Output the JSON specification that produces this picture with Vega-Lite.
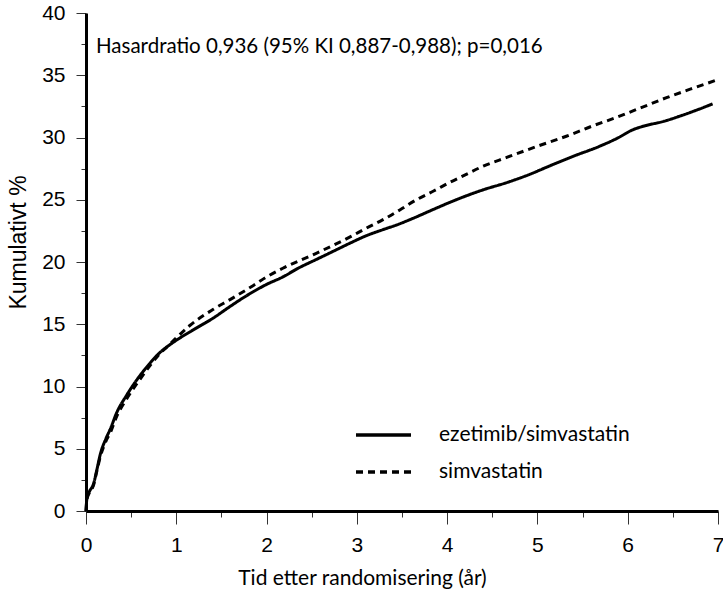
{
  "$schema": "https://vega.github.io/schema/vega-lite/v6.json",
  "width": 632,
  "height": 498,
  "autosize": {"type": "none"},
  "padding": {"left": 86, "top": 13, "right": 5, "bottom": 96},
  "background": "white",
  "title": {
    "text": "Hasardratio 0,936 (95% KI 0,887-0,988); p=0,016",
    "anchor": "start", "frame": "group", "offset": -55, "dx": 10,
    "font": "Lato", "fontSize": 20.5, "fontWeight": "normal", "color": "black"
  },
  "config": {"view": {"stroke": null}},
  "datasets": {
    "curves": [
      {"t":0,"v":0,"g":"ezetimib/simvastatin"},{"t":0.01,"v":1.0,"g":"ezetimib/simvastatin"},{"t":0.04,"v":1.6,"g":"ezetimib/simvastatin"},{"t":0.08,"v":2.1,"g":"ezetimib/simvastatin"},{"t":0.12,"v":3.3,"g":"ezetimib/simvastatin"},{"t":0.16,"v":4.6,"g":"ezetimib/simvastatin"},{"t":0.22,"v":5.8,"g":"ezetimib/simvastatin"},{"t":0.27,"v":6.6,"g":"ezetimib/simvastatin"},{"t":0.34,"v":7.9,"g":"ezetimib/simvastatin"},{"t":0.45,"v":9.3,"g":"ezetimib/simvastatin"},{"t":0.6,"v":10.9,"g":"ezetimib/simvastatin"},{"t":0.7,"v":11.8,"g":"ezetimib/simvastatin"},{"t":0.8,"v":12.6,"g":"ezetimib/simvastatin"},{"t":0.9,"v":13.2,"g":"ezetimib/simvastatin"},{"t":1.04,"v":13.9,"g":"ezetimib/simvastatin"},{"t":1.2,"v":14.6,"g":"ezetimib/simvastatin"},{"t":1.41,"v":15.5,"g":"ezetimib/simvastatin"},{"t":1.59,"v":16.4,"g":"ezetimib/simvastatin"},{"t":1.78,"v":17.3,"g":"ezetimib/simvastatin"},{"t":2.0,"v":18.2,"g":"ezetimib/simvastatin"},{"t":2.18,"v":18.8,"g":"ezetimib/simvastatin"},{"t":2.35,"v":19.5,"g":"ezetimib/simvastatin"},{"t":2.55,"v":20.2,"g":"ezetimib/simvastatin"},{"t":2.75,"v":20.9,"g":"ezetimib/simvastatin"},{"t":2.92,"v":21.5,"g":"ezetimib/simvastatin"},{"t":3.1,"v":22.1,"g":"ezetimib/simvastatin"},{"t":3.29,"v":22.6,"g":"ezetimib/simvastatin"},{"t":3.45,"v":23.0,"g":"ezetimib/simvastatin"},{"t":3.62,"v":23.5,"g":"ezetimib/simvastatin"},{"t":3.84,"v":24.2,"g":"ezetimib/simvastatin"},{"t":4.1,"v":25.0,"g":"ezetimib/simvastatin"},{"t":4.4,"v":25.8,"g":"ezetimib/simvastatin"},{"t":4.67,"v":26.4,"g":"ezetimib/simvastatin"},{"t":4.9,"v":27.0,"g":"ezetimib/simvastatin"},{"t":5.13,"v":27.7,"g":"ezetimib/simvastatin"},{"t":5.4,"v":28.5,"g":"ezetimib/simvastatin"},{"t":5.69,"v":29.3,"g":"ezetimib/simvastatin"},{"t":5.9,"v":30.0,"g":"ezetimib/simvastatin"},{"t":6.05,"v":30.6,"g":"ezetimib/simvastatin"},{"t":6.17,"v":30.9,"g":"ezetimib/simvastatin"},{"t":6.4,"v":31.3,"g":"ezetimib/simvastatin"},{"t":6.61,"v":31.8,"g":"ezetimib/simvastatin"},{"t":6.8,"v":32.3,"g":"ezetimib/simvastatin"},{"t":6.94,"v":32.7,"g":"ezetimib/simvastatin"},
      {"t":0,"v":0,"g":"simvastatin"},{"t":0.01,"v":0.9,"g":"simvastatin"},{"t":0.04,"v":1.5,"g":"simvastatin"},{"t":0.08,"v":2.0,"g":"simvastatin"},{"t":0.12,"v":3.2,"g":"simvastatin"},{"t":0.16,"v":4.4,"g":"simvastatin"},{"t":0.22,"v":5.6,"g":"simvastatin"},{"t":0.27,"v":6.3,"g":"simvastatin"},{"t":0.34,"v":7.6,"g":"simvastatin"},{"t":0.45,"v":9.0,"g":"simvastatin"},{"t":0.6,"v":10.6,"g":"simvastatin"},{"t":0.7,"v":11.6,"g":"simvastatin"},{"t":0.8,"v":12.5,"g":"simvastatin"},{"t":0.9,"v":13.2,"g":"simvastatin"},{"t":1.0,"v":13.9,"g":"simvastatin"},{"t":1.15,"v":14.9,"g":"simvastatin"},{"t":1.41,"v":16.2,"g":"simvastatin"},{"t":1.6,"v":17.0,"g":"simvastatin"},{"t":1.85,"v":18.1,"g":"simvastatin"},{"t":2.0,"v":18.8,"g":"simvastatin"},{"t":2.18,"v":19.5,"g":"simvastatin"},{"t":2.55,"v":20.7,"g":"simvastatin"},{"t":2.92,"v":22.0,"g":"simvastatin"},{"t":3.1,"v":22.7,"g":"simvastatin"},{"t":3.29,"v":23.4,"g":"simvastatin"},{"t":3.48,"v":24.2,"g":"simvastatin"},{"t":3.66,"v":25.0,"g":"simvastatin"},{"t":3.85,"v":25.7,"g":"simvastatin"},{"t":4.03,"v":26.4,"g":"simvastatin"},{"t":4.2,"v":27.0,"g":"simvastatin"},{"t":4.4,"v":27.7,"g":"simvastatin"},{"t":4.66,"v":28.4,"g":"simvastatin"},{"t":5.0,"v":29.3,"g":"simvastatin"},{"t":5.32,"v":30.1,"g":"simvastatin"},{"t":5.6,"v":30.9,"g":"simvastatin"},{"t":5.87,"v":31.6,"g":"simvastatin"},{"t":6.15,"v":32.4,"g":"simvastatin"},{"t":6.43,"v":33.2,"g":"simvastatin"},{"t":6.7,"v":33.9,"g":"simvastatin"},{"t":6.98,"v":34.6,"g":"simvastatin"}
    ]
  },
  "data": {"name": "curves"},
  "mark": {"type": "line", "color": "black", "strokeWidth": 3, "interpolate": "monotone", "clip": false},
  "encoding": {
    "x": {
      "field": "t", "type": "quantitative",
      "scale": {"domain": [0, 7], "nice": false, "zero": false},
      "axis": {
        "title": "Tid etter randomisering (år)",
        "values": [0, 0.5, 1, 1.5, 2, 2.5, 3, 3.5, 4, 4.5, 5, 5.5, 6, 6.5, 7],
        "labelExpr": "datum.value % 1 === 0 ? format(datum.value, 'd') : ''",
        "grid": false,
        "domainColor": "black", "domainWidth": 3,
        "tickColor": "#333", "tickWidth": 1,
        "tickSize": {"condition": {"test": "datum.value % 1 === 0", "value": 13}, "value": 6},
        "labelPadding": 10,
        "labelFont": "Liberation Sans", "labelFontSize": 21, "labelColor": "black",
        "labelFlush": false, "labelOverlap": false,
        "titleFont": "Lato", "titleFontSize": 21, "titleFontWeight": "normal", "titleColor": "black",
        "titlePadding": 12, "titleX": 276, "titleAnchor": null, "titleAlign": "center"
      }
    },
    "y": {
      "field": "v", "type": "quantitative",
      "scale": {"domain": [0, 40], "nice": false},
      "axis": {
        "title": "Kumulativt %",
        "values": [0, 2.5, 5, 7.5, 10, 12.5, 15, 17.5, 20, 22.5, 25, 27.5, 30, 32.5, 35, 37.5, 40],
        "labelExpr": "datum.value % 5 === 0 ? format(datum.value, 'd') : ''",
        "grid": false,
        "domainColor": "black", "domainWidth": 3,
        "tickColor": "#333", "tickWidth": 1,
        "tickSize": {"condition": {"test": "datum.value % 5 === 0", "value": 10}, "value": 5},
        "labelPadding": 11,
        "labelFont": "Liberation Sans", "labelFontSize": 21, "labelColor": "black",
        "labelFlush": false, "labelOverlap": false,
        "titleFont": "Liberation Sans", "titleFontSize": 23, "titleFontWeight": "normal", "titleColor": "black",
        "titlePadding": 11, "titleY": 229, "titleAlign": "center"
      }
    },
    "strokeDash": {
      "field": "g", "type": "nominal",
      "scale": {"domain": ["ezetimib/simvastatin", "simvastatin"], "range": [[1, 0], [7, 5]]},
      "legend": {
        "title": null,
        "orient": "none", "legendX": 268, "legendY": 412,
        "padding": 0,
        "symbolType": "stroke", "symbolSize": 3025, "symbolStrokeWidth": 3.5, "symbolStrokeColor": "black",
        "clipHeight": 20, "rowPadding": 16,
        "labelOffset": 26,
        "labelFont": "Lato", "labelFontSize": 21, "labelColor": "black", "labelLimit": 400
      }
    }
  }
}
